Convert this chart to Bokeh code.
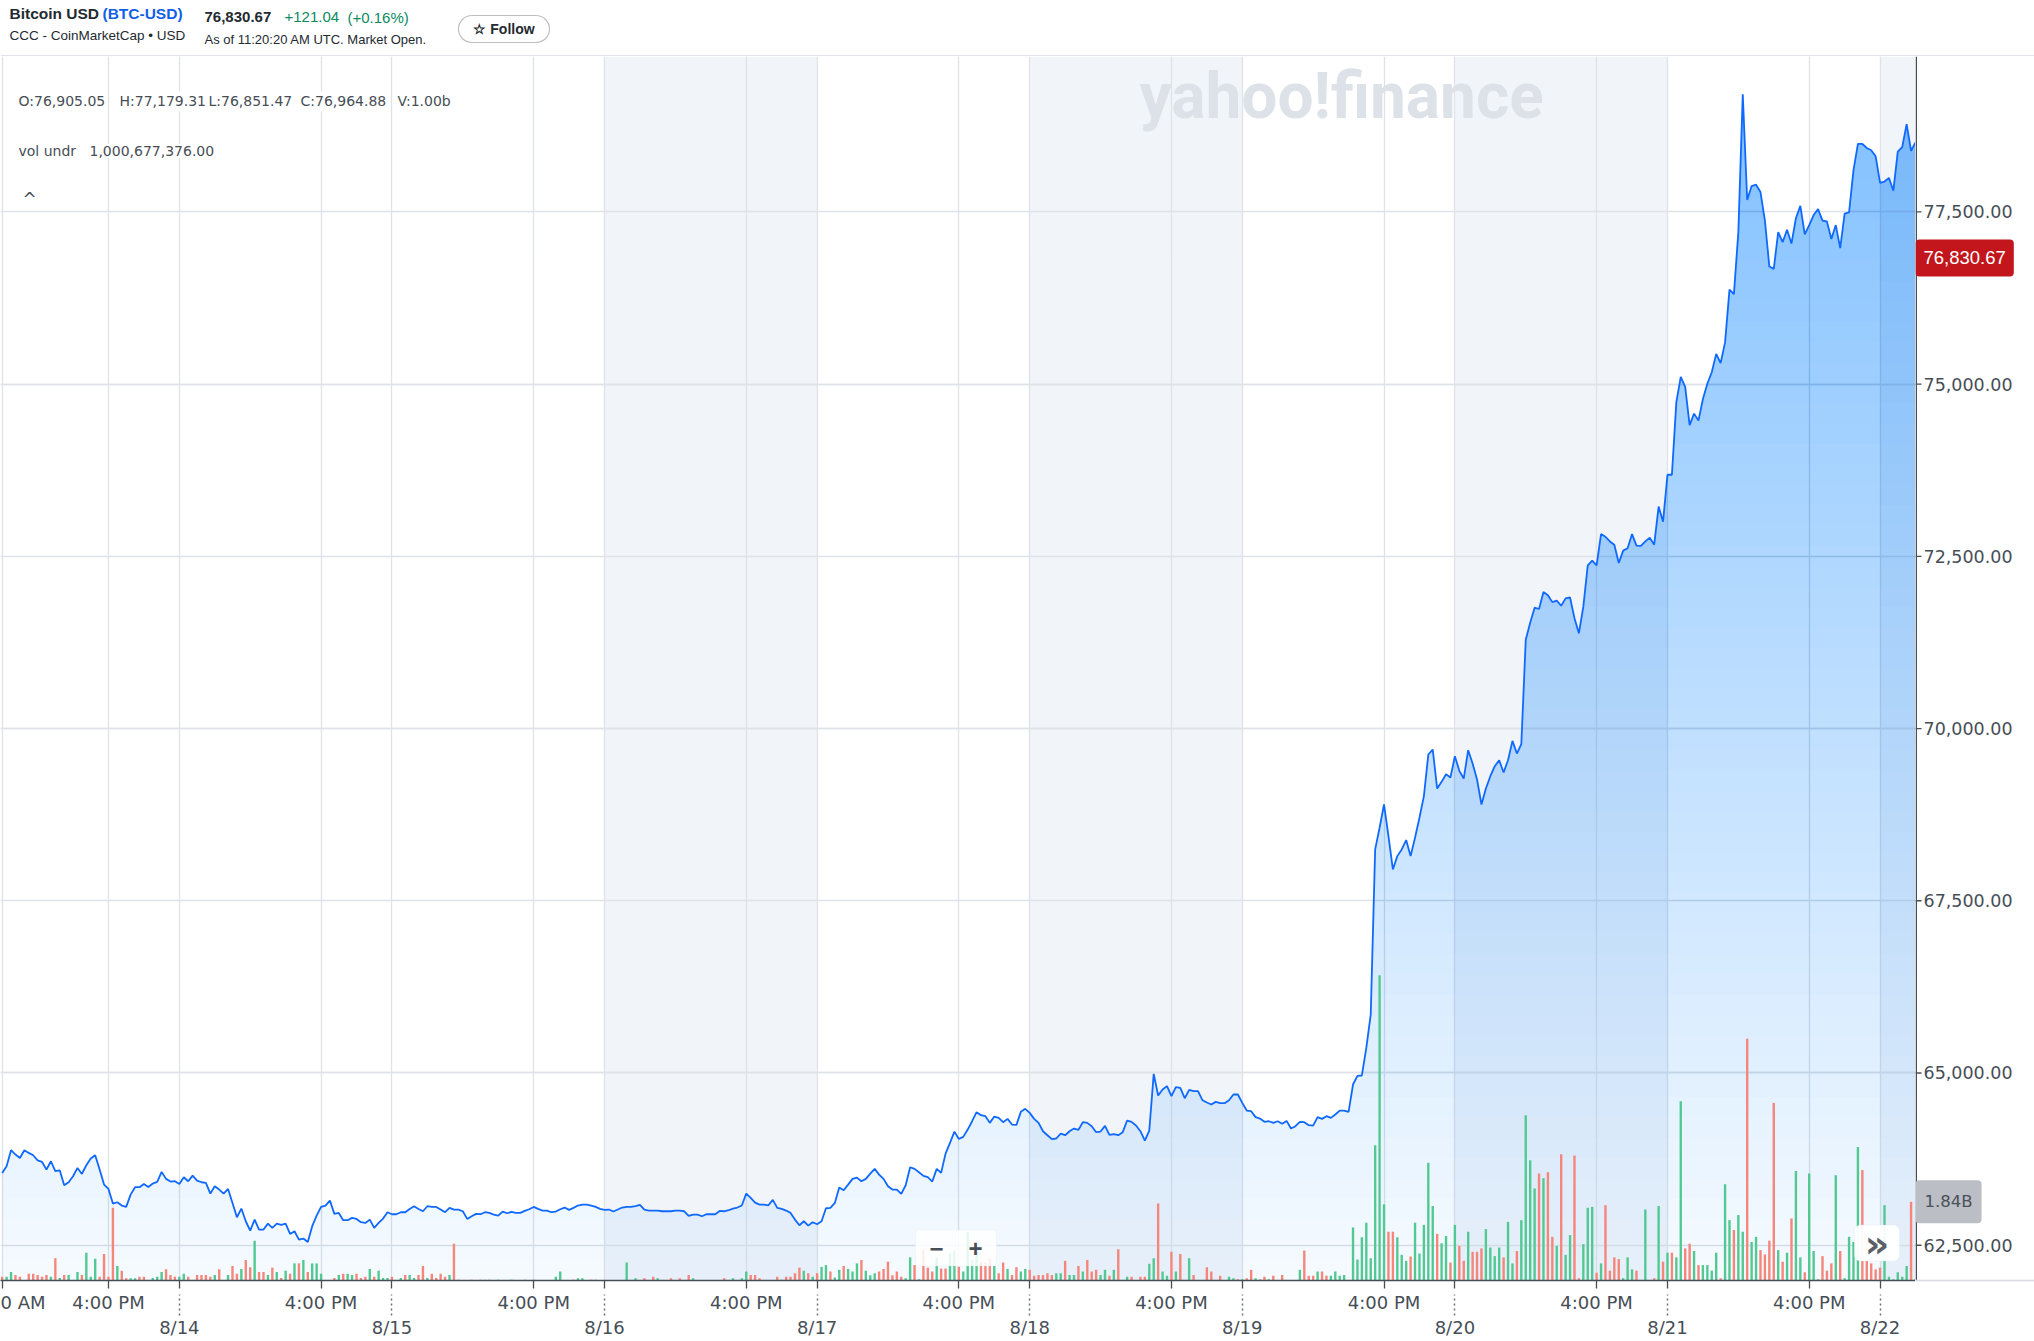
import numpy as np
from bokeh.plotting import figure
from bokeh.layouts import column, row
from bokeh.models import (Range1d, LinearAxis, FixedTicker, Label, BoxAnnotation, Grid)
from bokeh.core.properties import value
from bokeh.embed import file_html
from bokeh.resources import INLINE

# ======================= DATA =======================
title_name = "Bitcoin USD"
title_symbol = "(BTC-USD)"
source_line = "CCC - CoinMarketCap \u2022 USD"
quote_price = "76,830.67"
quote_change = "+121.04"
quote_pct = "(+0.16%)"
quote_time = "As of 11:20:20 AM UTC. Market Open."
follow_text = "\u2606 Follow"
ohlc_items = ["O:76,905.05", "H:77,179.31", "L:76,851.47", "C:76,964.88", "V:1.00b"]
vol_undr_name = "vol undr"
vol_undr_value = "1,000,677,376.00"
watermark = "yahoo!finance"

bar_hours = 0.5   # one bar every 30 minutes, first bar 8/13 4:00 AM

price = [
    63550, 63646, 63879, 63816, 63767, 63879, 63840, 63806, 63733, 63709,
    63598, 63719, 63574, 63588, 63371, 63414, 63501, 63622, 63535, 63661,
    63758, 63806, 63598, 63380, 63317, 63105, 63124, 63076, 63056, 63235,
    63342, 63342, 63390, 63346, 63395, 63419, 63564, 63463, 63424, 63429,
    63390, 63487, 63429, 63511, 63438, 63414, 63405, 63250, 63356, 63308,
    63250, 63317, 63114, 62906, 63032, 62848, 62713, 62872, 62727, 62727,
    62814, 62752, 62814, 62795, 62814, 62664, 62703, 62582, 62597, 62548,
    62776, 62930, 63056, 63076, 63148, 62955, 62969, 62863, 62863, 62897,
    62882, 62834, 62824, 62872, 62752, 62824, 62887, 62979, 62950, 62950,
    62979, 62979, 63027, 63066, 63027, 62993, 63066, 63056, 63056, 63018,
    62979, 63042, 63018, 63018, 62993, 62882, 62921, 62955, 62950, 62979,
    62969, 62945, 62930,
    62989, 62964, 62984, 62969, 62969, 62998, 63022, 63056, 63027, 63003,
    63003, 62979, 62989, 63022, 63047, 63013, 63042, 63076, 63090, 63090,
    63076, 63056, 63027, 63013, 63018, 62989, 63018, 63047, 63056, 63056,
    63066, 63085, 63018, 63003, 63003, 63003, 62993, 62993, 62993, 63003,
    63003, 62993, 62926, 62945, 62945, 62921, 62950, 62950, 62950, 62998,
    62993, 63008, 63032, 63047, 63076, 63250, 63187, 63119, 63090, 63090,
    63080, 63158, 63042, 63027, 63003, 62969, 62872, 62790, 62848, 62785,
    62834, 62805, 62848, 63037, 63042, 63114, 63337, 63298, 63380, 63463,
    63482, 63429, 63463, 63540, 63608, 63525, 63463, 63356, 63308, 63308,
    63245, 63371, 63632, 63608, 63559, 63506, 63487, 63424, 63608, 63550,
    63830, 63985, 64149, 64043,
    64073, 64179, 64300, 64431, 64388, 64373, 64276, 64368, 64349, 64286,
    64334, 64252, 64247, 64436, 64480, 64421, 64334, 64276, 64155, 64097,
    64039, 64049, 64121, 64097, 64155, 64194, 64175, 64286, 64276, 64228,
    64141, 64150, 64233, 64102, 64112, 64097, 64141, 64310, 64291, 64238,
    64155, 64020, 64165, 64988, 64673, 64760, 64809, 64663, 64794, 64784,
    64634, 64755, 64736, 64736, 64605, 64572, 64542, 64581, 64562, 64562,
    64605, 64688, 64688, 64567, 64455, 64446, 64359, 64339, 64291, 64300,
    64276, 64300, 64262, 64305, 64194, 64228, 64291, 64286, 64242, 64237,
    64359, 64334, 64373, 64349, 64397, 64455, 64455, 64436, 64833, 64959,
    64964, 65365, 65849, 68245, 68560, 68898, 68439, 67955, 68148, 68245,
    68381, 68148, 68414, 68705, 69019,
    69623, 69695, 69129, 69226, 69337, 69289, 69599, 69386, 69274, 69686,
    69492, 69260, 68897, 69129, 69308, 69453, 69540, 69362, 69540, 69821,
    69637, 69773,
    71288, 71535, 71755, 71735, 71982, 71936, 71835, 71856, 71782, 71889,
    71902, 71602, 71382, 71769, 72369, 72436, 72369, 72823, 72783, 72716,
    72669, 72403, 72583, 72616, 72823, 72656, 72650, 72716, 72770, 72669,
    73223, 73003, 73684, 73684, 74738, 75105, 74958, 74404, 74571, 74471,
    74784, 75005, 75171, 75438, 75305, 75605, 76372, 76306, 77206, 79208,
    77673, 77874, 77894, 77787, 77373, 76706, 76673, 77206, 77060, 77240,
    77040, 77407, 77587, 77173, 77307, 77453, 77540, 77373, 77360, 77106,
    77307, 76973, 77473, 77493, 78107, 78487, 78487, 78427, 78394, 78307,
    77920, 77940, 77994, 77807, 78374, 78440, 78774, 78387, 78507,
]

volume_b = [
    0.09, 0.09, 0.20, 0.13, 0.09, 0.01, 0.16, 0.16, 0.13, 0.09,
    0.13, 0.09, 0.52, 0.06, 0.13, 0.13, 0.01, 0.20, 0.13, 0.65,
    0.09, 0.51, 0.09, 0.62, 0.09, 1.70, 0.34, 0.23, 0.05, 0.05,
    0.05, 0.09, 0.09, 0.01, 0.06, 0.09, 0.20, 0.26, 0.13, 0.09,
    0.09, 0.16, 0.09, 0.01, 0.13, 0.13, 0.13, 0.09, 0.13, 0.26,
    0.01, 0.13, 0.34, 0.16, 0.27, 0.48, 0.31, 0.93, 0.20, 0.20,
    0.13, 0.30, 0.20, 0.06, 0.23, 0.16, 0.40, 0.40, 0.48, 0.20,
    0.40, 0.40, 0.16, 0.01, 0.01, 0.06, 0.13, 0.16, 0.16, 0.13,
    0.16, 0.06, 0.09, 0.27, 0.09, 0.23, 0.06, 0.06, 0.09, 0.01,
    0.06, 0.13, 0.13, 0.06, 0.13, 0.34, 0.06, 0.16, 0.06, 0.16,
    0.09, 0.13, 0.86, 0.02, 0.01, 0.01, 0.02, 0.01, 0.02, 0.02,
    0.02, 0.01, 0.02, 0.01, 0.01, 0.02, 0.01, 0.01, 0.02, 0.01,
    0.02, 0.01, 0.01, 0.01, 0.01, 0.09, 0.21, 0.01, 0.01, 0.02,
    0.05, 0.05, 0.01, 0.02, 0.02, 0.01, 0.01, 0.01, 0.01, 0.01,
    0.01, 0.42, 0.01, 0.05, 0.01, 0.05, 0.01, 0.09, 0.05, 0.01,
    0.01, 0.05, 0.01, 0.05, 0.01, 0.13, 0.05, 0.01, 0.01, 0.01,
    0.01, 0.01, 0.01, 0.05, 0.01, 0.05, 0.01, 0.05, 0.21, 0.13,
    0.13, 0.05, 0.01, 0.01, 0.01, 0.09, 0.02, 0.09, 0.09, 0.17,
    0.30, 0.23, 0.17, 0.09, 0.17, 0.32, 0.36, 0.21, 0.07, 0.25,
    0.34, 0.27, 0.21, 0.40, 0.48, 0.23, 0.12, 0.17, 0.21, 0.27,
    0.44, 0.12, 0.21, 0.09, 0.05, 0.54, 0.36, 0.03, 0.71, 0.30,
    0.21, 0.54, 0.28, 0.28, 0.63, 0.71, 0.32, 0.21, 1.14, 0.48,
    0.67, 0.42, 0.42, 0.52, 0.34, 0.17, 0.42, 0.27, 0.13, 0.31,
    0.21, 0.27, 0.25, 0.11, 0.13, 0.13, 0.17, 0.13, 0.17, 0.17,
    0.46, 0.13, 0.13, 0.34, 0.21, 0.48, 0.21, 0.25, 0.13, 0.25,
    0.11, 0.25, 0.73, 0.01, 0.09, 0.09, 0.01, 0.09, 0.09, 0.39,
    0.52, 1.80, 0.21, 0.11, 0.67, 0.21, 0.62, 0.01, 0.52, 0.13,
    0.01, 0.01, 0.31, 0.21, 0.01, 0.11, 0.01, 0.09, 0.05, 0.03,
    0.03, 0.05, 0.25, 0.05, 0.03, 0.09, 0.03, 0.11, 0.01, 0.13,
    0.01, 0.01, 0.01, 0.25, 0.70, 0.11, 0.11, 0.21, 0.21, 0.11,
    0.11, 0.21, 0.11, 0.13, 0.01, 1.24, 0.49, 1.01, 1.35, 0.52,
    3.16, 7.13, 1.78, 1.14, 1.14, 1.01, 0.60, 0.46, 0.56, 1.35,
    0.63, 1.30, 2.75, 1.74, 1.09, 0.87, 1.04, 0.42, 1.30, 0.81,
    0.46, 1.14, 0.67, 0.67, 0.75, 1.20, 0.77, 0.57, 0.77, 0.54,
    1.37, 0.40, 0.69, 1.41, 3.86, 2.81, 2.15, 2.50, 2.39, 2.53,
    1.02, 0.81, 2.95, 0.60, 1.06, 2.92, 0.05, 0.85, 1.70, 1.72,
    0.18, 0.40, 1.76, 0.23, 0.54, 0.50, 0.05, 0.54, 0.26, 0.23,
    0.01, 1.66, 0.01, 0.05, 1.74, 0.44, 0.65, 0.65, 0.54, 4.19,
    0.75, 0.86, 0.69, 0.36, 0.36, 0.36, 0.23, 0.65, 0.05, 2.25,
    1.41, 1.18, 1.53, 1.14, 5.65, 0.90, 1.02, 0.71, 0.61, 0.93,
    4.15, 0.71, 0.44, 0.65, 1.45, 2.56, 0.54, 0.19, 2.50, 0.69,
    0.03, 0.57, 0.23, 0.40, 2.46, 0.69, 0.05, 1.02, 0.90, 3.12,
    2.58, 0.48, 0.40, 0.26, 0.30, 1.76, 0.09, 0.03, 0.19, 0.09,
    0.34, 1.84, 0.03,
]

# g = up bar (green), r = down bar (red)
vol_dir = "".join([
    "rggrrgrrrr", "rgrgrgggrg", "ggrrrrgrrg", "grrggggrrr", "ggrgrrrrgr",
    "ggrrgrrgrr", "grgrgrgrgr", "gggggrgrgg", "rrrgrgggrg", "grggrrgrrr",
    "rgrrggrgrg", "rgggrgrggr", "grgrgggrgr", "ggrrgrgrgr", "ggrgrrgrgr",
    "grgrrrgrgr", "grgrggrggr", "rrgrgrgrrr", "rgrgrggrgg", "rgggrgggrr",
    "rrrrggrgrr", "rgrrggrggg", "grrrgrrgrr", "ggrrrrrrgg", "rggrgrrrgg",
    "rgrggrgrrg", "grggrgrggr", "grrrgrgggr", "grrgrrgrgr", "grggrrrgrr",
    "ggggrggggg", "gggrrgggrg", "ggggrggrgr", "rgrrrggggr", "ggrggggrgr",
    "rgrggrrggg", "rgrrrrgggr", "gggrgrgrgg", "rrgrggggrg", "grggrggrrr",
    "rgrgrggrgg", "grrrgrgggg", "rrrrrggggg", "grg",
])

last_price = 76830.67
last_volume = 1.84
last_volume_text = "1.84B"

price_ticks = [62500, 65000, 67500, 70000, 72500, 75000, 77500]
time_tick_hours = [0, 12, 36, 60, 84, 108, 132, 156, 180, 204]
time_tick_labels = ["0 AM", "4:00 PM", "4:00 PM", "4:00 PM", "4:00 PM",
                    "4:00 PM", "4:00 PM", "4:00 PM", "4:00 PM", "4:00 PM"]
date_tick_hours = [20, 44, 68, 92, 116, 140, 164, 188, 212]
date_tick_labels = ["8/14", "8/15", "8/16", "8/17", "8/18", "8/19", "8/20", "8/21", "8/22"]
shaded_dates = ["8/16", "8/18", "8/20", "8/22"]

# ======================= LAYOUT / STYLE =======================
W = 2034
H_HEAD = 56
FRAME_W, FRAME_H = 1915, 1224
SIDE_W = W - FRAME_W
BOT = 61
T0, T1 = -0.19, 216.0
Y0, Y1 = 61988.0, 79755.0
VOL_TOP = 28.6
FONT = "Liberation Sans"
AXFONT = "DejaVu Sans"
TXT = "#464e56"
DARK = "#232a31"
LINE_BLUE = "#0f69ff"
FILL_BLUE = "#0b78ff"
GREEN = "#52c992"
RED = "#f5867b"

n = min(len(price), len(volume_b))
p_arr = np.array(price[:n], dtype=float)
v_arr = np.array(volume_b[:n], dtype=float)
dirs = (vol_dir + "g" * n)[:n]
t = np.arange(n) * bar_hours
bar_colors = [GREEN if d == "g" else RED for d in dirs]


def tx(rx):      # reference pixel x -> hours
    return T0 + rx * (T1 - T0) / 1915.0


def py(ry):      # reference pixel y -> price
    return Y1 - (ry - 56.0) * (Y1 - Y0) / 1224.5


# ---------------- header ----------------
head = figure(width=W, height=H_HEAD, x_range=Range1d(0, W), y_range=Range1d(H_HEAD, 0),
              toolbar_location=None, output_backend="svg", x_axis_location=None,
              y_axis_location=None, min_border=0, outline_line_color=None,
              background_fill_color="white", border_fill_color="white")
head.grid.visible = False
head.segment(x0=[0], y0=[H_HEAD - 0.8], x1=[W], y1=[H_HEAD - 0.8],
             line_color="#e0e3e8", line_width=1.5)


def hlabel(x, y, text, size="15px", color=DARK, style="normal", align="left"):
    head.add_layout(Label(x=x, y=y, text=text, text_font=FONT, text_font_size=size,
                          text_color=color, text_font_style=style, text_align=align,
                          text_baseline="middle"))


hlabel(9, 13, title_name, "15.5px", DARK, "bold")
hlabel(102, 13, title_symbol, "15.5px", "#1260e6", "bold")
hlabel(9, 35, source_line, "13.5px", DARK)
hlabel(204, 16.5, quote_price, "15px", DARK, "bold")
hlabel(284, 16.5, quote_change, "15px", "#0b8a5f")
hlabel(347, 16.5, quote_pct, "15px", "#0b8a5f")
hlabel(204, 39, quote_time, "13px", DARK)
head.add_layout(BoxAnnotation(left=458, right=549, top=15, bottom=42,
                              fill_color="white", fill_alpha=1, line_color=DARK,
                              line_width=1.2, border_radius=14))
hlabel(503.5, 28.5, follow_text, "14px", DARK, "bold", "center")

# ---------------- main chart ----------------
p = figure(frame_width=FRAME_W, frame_height=FRAME_H,
           x_range=Range1d(T0, T1), y_range=Range1d(Y0, Y1),
           y_axis_location=None, toolbar_location=None, output_backend="svg",
           min_border_left=0, min_border_right=0, min_border_top=0,
           min_border_bottom=BOT, background_fill_color="white",
           border_fill_color="white", outline_line_color=None)
p.extra_y_ranges = {"vol": Range1d(0, VOL_TOP)}

# alternate-day shading
sh_left = [date_tick_hours[date_tick_labels.index(d)] for d in shaded_dates]
sh_right = [min(h + 24, T1) for h in sh_left]
p.quad(left=sh_left, right=sh_right, bottom=Y0, top=Y1, fill_color="#f1f5fa",
       line_color=None, level="image")

# grids
all_x_ticks = sorted(time_tick_hours + date_tick_hours)
p.xgrid[0].ticker = FixedTicker(ticks=all_x_ticks)
p.add_layout(Grid(dimension=1, ticker=FixedTicker(ticks=price_ticks)))
p.grid.grid_line_color = "#dfe2e7"
p.grid.grid_line_width = 1.3

# gradient area (stacked translucent layers)
p.varea(x=t, y1=Y0, y2=p_arr, fill_color=FILL_BLUE, fill_alpha=0.04)
for L in np.linspace(Y0, Y1, 61)[1:-1]:
    p.varea(x=t, y1=L, y2=np.maximum(p_arr, L), fill_color=FILL_BLUE, fill_alpha=0.0097)

# volume
p.vbar(x=t, top=v_arr, bottom=0, width=0.27, fill_color=bar_colors, line_color=None,
       y_range_name="vol")

# price line
p.line(t, p_arr, line_color=LINE_BLUE, line_width=1.8)

# x axes: time of day row, then date row with dotted tick extensions
overrides = {h: "" for h in date_tick_hours}
overrides.update({h: s for h, s in zip(time_tick_hours, time_tick_labels)})
xa = p.xaxis[0]
xa.ticker = FixedTicker(ticks=all_x_ticks)
xa.major_label_overrides = overrides
xa.axis_line_color = TXT
xa.axis_line_width = 1.5
xa.major_tick_line_color = TXT
xa.major_tick_line_width = 1.3
xa.major_tick_out = 8
xa.major_tick_in = 0
xa.minor_tick_line_color = None
xa.minor_tick_out = 0
xa.minor_tick_in = 0
xa.major_label_standoff = 3
xa.major_label_text_font = AXFONT
xa.major_label_text_font_size = "18px"
xa.major_label_text_color = TXT

da = LinearAxis(ticker=FixedTicker(ticks=date_tick_hours),
                major_label_overrides={h: s for h, s in zip(date_tick_hours, date_tick_labels)},
                axis_line_color=None, major_tick_line_color="#6b7178",
                major_tick_line_width=1.5, major_tick_line_dash="2 3",
                major_tick_out=0, major_tick_in=21,
                minor_tick_line_color=None, minor_tick_out=0, minor_tick_in=0,
                major_label_standoff=1, major_label_text_font=AXFONT,
                major_label_text_font_size="18px", major_label_text_color=TXT)
p.add_layout(da, "below")

# watermark
p.add_layout(Label(x=tx(1139), y=py(96), text=watermark, text_font="Roboto",
                   text_font_style="bold", text_font_size="64px", text_color="#dde2e8",
                   text_baseline="alphabetic"))

# OHLC info
for rx, s in zip([16, 117, 206, 298, 395], ohlc_items):
    p.add_layout(Label(x=tx(rx), y=py(101), text=s, text_font=AXFONT, text_font_size="14px",
                       text_color=TXT, text_baseline="middle", background_fill_color="white",
                       padding=2))
p.add_layout(Label(x=tx(16), y=py(150.5), text=vol_undr_name, text_font=AXFONT,
                   text_font_size="14px", text_color=TXT, text_baseline="middle",
                   background_fill_color="white", padding=2))
p.add_layout(Label(x=tx(87), y=py(150.5), text=vol_undr_value, text_font=AXFONT,
                   text_font_size="14px", text_color=TXT, text_baseline="middle",
                   background_fill_color="white", padding=2))
p.add_layout(Label(x=tx(29), y=py(199), text="^", text_font=AXFONT,
                   text_font_size="17px", text_color=TXT, text_align="center",
                   text_baseline="middle"))

# zoom (- +) control
p.add_layout(BoxAnnotation(left=tx(915), right=tx(996), top=py(1230), bottom=py(1266),
                           fill_color="white", fill_alpha=0.85, line_color="#e4e7eb",
                           line_width=1, border_radius=4))
p.segment(x0=[tx(955)], y0=[py(1236)], x1=[tx(955)], y1=[py(1260)],
          line_color="#e0e3e7", line_width=1)
p.add_layout(Label(x=tx(936), y=py(1248), text="\u2212", text_font=FONT,
                   text_font_size="24px", text_font_style="bold", text_color=TXT,
                   text_align="center", text_baseline="middle"))
p.add_layout(Label(x=tx(975), y=py(1248), text="+", text_font=FONT,
                   text_font_size="24px", text_font_style="bold", text_color=TXT,
                   text_align="center", text_baseline="middle"))

# >> control
p.add_layout(BoxAnnotation(left=tx(1854), right=tx(1899), top=py(1225), bottom=py(1261),
                           fill_color="white", fill_alpha=0.95, line_color="#e3e5e9",
                           line_width=1, border_radius=6))
p.add_layout(Label(x=tx(1876.5), y=py(1244), text="\u00bb", text_font=AXFONT,
                   text_font_size="38px", text_font_style="bold", text_color="#5a6066",
                   text_align="center", text_baseline="middle"))

# ---------------- right-hand price scale ----------------
side = figure(frame_width=SIDE_W, frame_height=FRAME_H, x_range=Range1d(0, SIDE_W),
              y_range=p.y_range, toolbar_location=None, output_backend="svg",
              y_axis_location=None, min_border_left=0,
              min_border_right=0, min_border_top=0, min_border_bottom=BOT,
              outline_line_color=None, background_fill_color="white",
              border_fill_color="white")
side.extra_y_ranges = {"vol": p.extra_y_ranges["vol"]}
side.grid.visible = False
sx = side.xaxis[0]
sx.axis_line_color = "#d9dce1"
sx.axis_line_width = 1.5
sx.major_tick_line_color = None
sx.minor_tick_line_color = None
sx.major_label_text_color = None
sx.major_label_text_font_size = "1px"
sx.major_label_standoff = 0

side.segment(x0=[0.75], y0=[Y0], x1=[0.75], y1=[Y1], line_color=TXT, line_width=1.5)
side.segment(x0=0, y0=price_ticks, x1=6, y1=price_ticks, line_color=TXT, line_width=1.3)
side.text(x=8, y=price_ticks, text=[f"{v:,.2f}" for v in price_ticks],
          text_font=value(AXFONT), text_font_size="17.5px", text_color=TXT,
          text_baseline="middle", text_align="left")
side.add_layout(Label(x=0, y=last_price, text=f"{last_price:,.2f}", text_font=FONT,
                      text_font_size="18.5px", text_color="white", text_baseline="middle",
                      background_fill_color="#c2161c", border_radius=4, padding=(8, 12)))
side.add_layout(Label(x=0, y=last_volume, y_range_name="vol", text=last_volume_text,
                      text_font=AXFONT, text_font_size="16.5px", text_color="#4b5158",
                      text_baseline="middle", background_fill_color="#bbbec5",
                      border_radius=4, padding=(9, 12)))

layout = column(head, row(p, side))
open("out.html", "w").write(file_html(layout, INLINE))
